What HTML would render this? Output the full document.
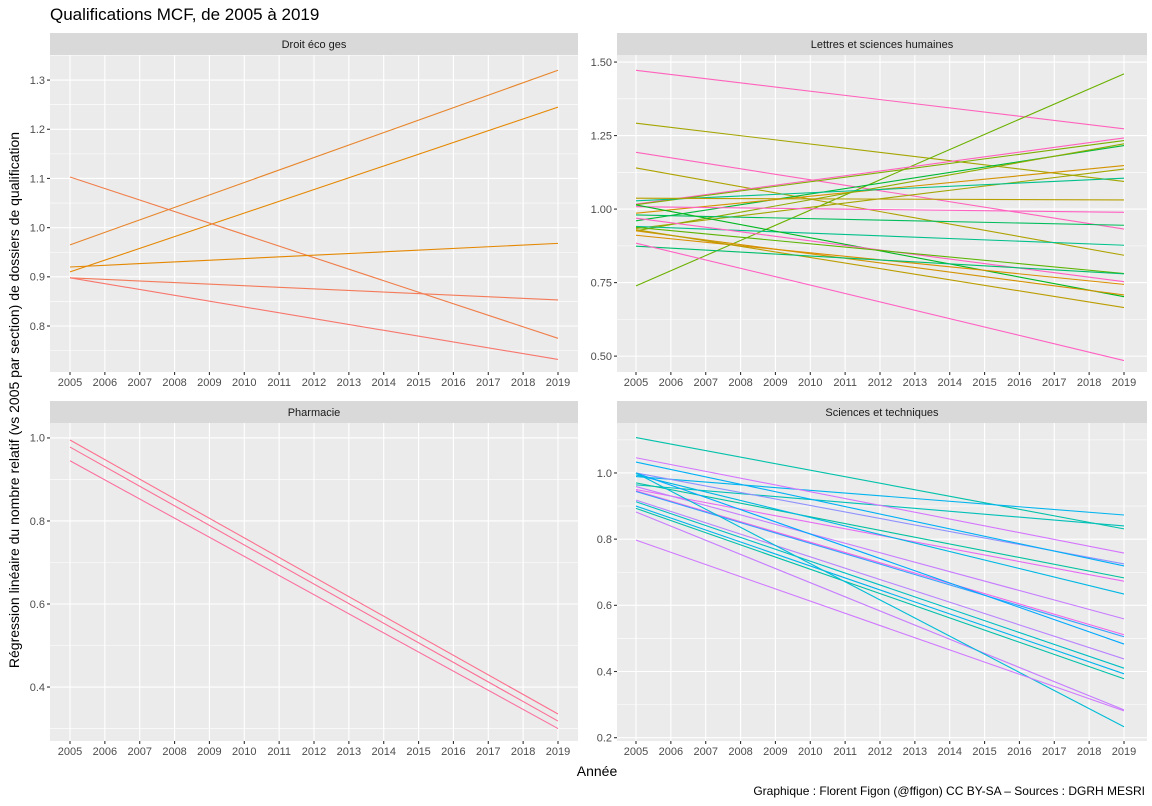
<!DOCTYPE html>
<html><head><meta charset="utf-8">
<style>
body{margin:0;background:#fff;}
svg{font-family:"Liberation Sans",sans-serif;display:block}
</style></head>
<body>
<svg id="chart" width="1152" height="806" viewBox="0 0 1152 806">
<text x="50" y="20" font-size="17" fill="#000">Qualifications MCF, de 2005 à 2019</text>
<text transform="translate(19,400) rotate(-90)" text-anchor="middle" font-size="14" fill="#000">Régression linéaire du nombre relatif (vs 2005 par section) de dossiers de qualification</text>
<text x="597" y="776" text-anchor="middle" font-size="14" fill="#000">Année</text>
<text x="1145" y="795" text-anchor="end" font-size="12" fill="#000">Graphique : Florent Figon (@ffigon) CC BY-SA – Sources : DGRH MESRI</text>
</svg>
<script>
const years = [2005,2006,2007,2008,2009,2010,2011,2012,2013,2014,2015,2016,2017,2018,2019];
const panelNames = ["Droit éco ges","Lettres et sciences humaines","Pharmacie","Sciences et techniques"];
const droitStart = [0.965,0.910,1.103,0.920,0.898,0.898];
const droitEnd   = [1.320,1.245,0.775,0.968,0.853,0.732];
const droitColors = ["#E8852B","#E58700","#F07E4A","#E58700","#F47B5A","#F8766D"];
const lettresStart = [1.472,1.292,1.193,1.140,0.739,1.017,1.015,0.960,0.986,0.934,0.926,1.028,1.037,1.008,0.980,0.941,1.014,0.969,0.938,0.926,0.911,0.930,0.874,0.884];
const lettresEnd   = [1.273,1.094,0.932,0.843,1.460,1.242,1.233,1.216,1.148,1.136,1.222,1.105,1.031,0.989,0.945,0.877,0.702,0.753,0.781,0.708,0.744,0.665,0.780,0.485];
const lettresColors = ["#FF62BC","#A3A500","#FF62BC","#AEA200","#6BB100","#FF62BC","#7CAE00","#00BA38","#D39200","#A3A500","#8EAB00","#00C08B","#B79F00","#FF61C3","#00BD5C","#00C08B","#00B81F","#FF61C3","#5BB300","#D39200","#DB8E00","#BB9D00","#00BE6C","#FF61C3"];
const pharmaStart = [0.995,0.978,0.945];
const pharmaEnd   = [0.335,0.318,0.300];
const pharmaColors = ["#FD6F8E","#FC6F96","#FB709E"];
const sciStart = [1.107,0.989,0.964,1.046,1.000,1.033,0.970,0.950,0.994,0.959,0.946,0.944,1.000,0.918,0.913,0.900,0.893,0.882,1.000,0.797];
const sciEnd   = [0.831,0.873,0.840,0.758,0.725,0.719,0.683,0.673,0.634,0.559,0.511,0.505,0.483,0.438,0.410,0.393,0.378,0.284,0.233,0.281];
const sciColors = ["#00C1AA","#00B4EF","#00C0B8","#D575FE","#8F91FF","#00B0F6","#00C19F","#E76BF3","#00B8E5","#C77CFF","#F066EA","#35A2FF","#00A9FF","#B983FF","#00BFC4","#00B5EE","#00C1A9","#C77CFF","#00BCD8","#D078FF"];
const ticksDroit = [0.8,0.9,1.0,1.1,1.2,1.3];
const ticksLettres = [0.5,0.75,1.0,1.25,1.5];
const ticksPharma = [0.4,0.6,0.8,1.0];
const ticksSci = [0.2,0.4,0.6,0.8,1.0];

const NS="http://www.w3.org/2000/svg";
const svg=document.getElementById("chart");
function mk(tag,attrs,parent){const e=document.createElementNS(NS,tag);for(const k in attrs)e.setAttribute(k,attrs[k]);(parent||svg).appendChild(e);return e;}

function panel(name,slug,x0,x1,y0,y1,ymin,ymax,ticks,labelFmt,starts,ends,colors,padL,padR){
  const g=mk("g",{});
  
  
  const strip=mk("rect",{x:x0,y:y0-22,width:x1-x0,height:22,fill:"#D9D9D9"},g);
  
  
  const st=mk("text",{x:(x0+x1)/2,y:y0-7,"text-anchor":"middle","font-size":"11",fill:"#1A1A1A"},g);
  st.textContent=name;
  
  
  const bg=mk("rect",{x:x0,y:y0,width:x1-x0,height:y1-y0,fill:"#EBEBEB"},g);
  
  
  const xs=(x1-x0-padL-padR)/14;
  const X=yr=>x0+padL+(yr-2005)*xs;
  const Y=v=>y1-(v-ymin)/(ymax-ymin)*(y1-y0);
  const step=ticks[1]-ticks[0];
  for(let v=ticks[0]-step/2; v<=ymax; v+=step){ if(v>=ymin) mk("line",{x1:x0,x2:x1,y1:Y(v),y2:Y(v),stroke:"#fff","stroke-width":0.55},g); }
  ticks.forEach(v=>{
    mk("line",{x1:x0,x2:x1,y1:Y(v),y2:Y(v),stroke:"#fff","stroke-width":1.1},g);
    mk("line",{x1:x0-3,x2:x0,y1:Y(v),y2:Y(v),stroke:"#333","stroke-width":1.1},g);
    const t=mk("text",{x:x0-5,y:Y(v)+3.8,"text-anchor":"end","font-size":"11",fill:"#4D4D4D"},g);
    t.textContent=labelFmt(v);
    
    
  });
  years.forEach(yr=>{
    mk("line",{x1:X(yr),x2:X(yr),y1:y0,y2:y1,stroke:"#fff","stroke-width":1.1},g);
    mk("line",{x1:X(yr),x2:X(yr),y1:y1,y2:y1+3,stroke:"#333","stroke-width":1.1},g);
    const t=mk("text",{x:X(yr),y:y1+14,"text-anchor":"middle","font-size":"11",fill:"#4D4D4D"},g);
    t.textContent=yr;
    
    
  });
  starts.forEach((s,i)=>{
    const l=mk("line",{x1:X(2005),y1:Y(s),x2:X(2019),y2:Y(ends[i]),stroke:colors[i],"stroke-width":1.1},g);
    
    
  });
}
const f1=v=>v.toFixed(1), f2=v=>v.toFixed(2);
panel(panelNames[0],"droit",50,578,55,372,0.7065,1.351,ticksDroit,f1,droitStart,droitEnd,droitColors,20,20);
panel(panelNames[1],"lettres",617,1147,55,372,0.446,1.524,ticksLettres,f2,lettresStart,lettresEnd,lettresColors,19,23);
panel(panelNames[2],"pharmacie",50,578,423,741,0.270,1.036,ticksPharma,f1,pharmaStart,pharmaEnd,pharmaColors,20,20);
panel(panelNames[3],"sciences",617,1147,423,741,0.190,1.151,ticksSci,f1,sciStart,sciEnd,sciColors,19,23);
</script>
</body></html>
